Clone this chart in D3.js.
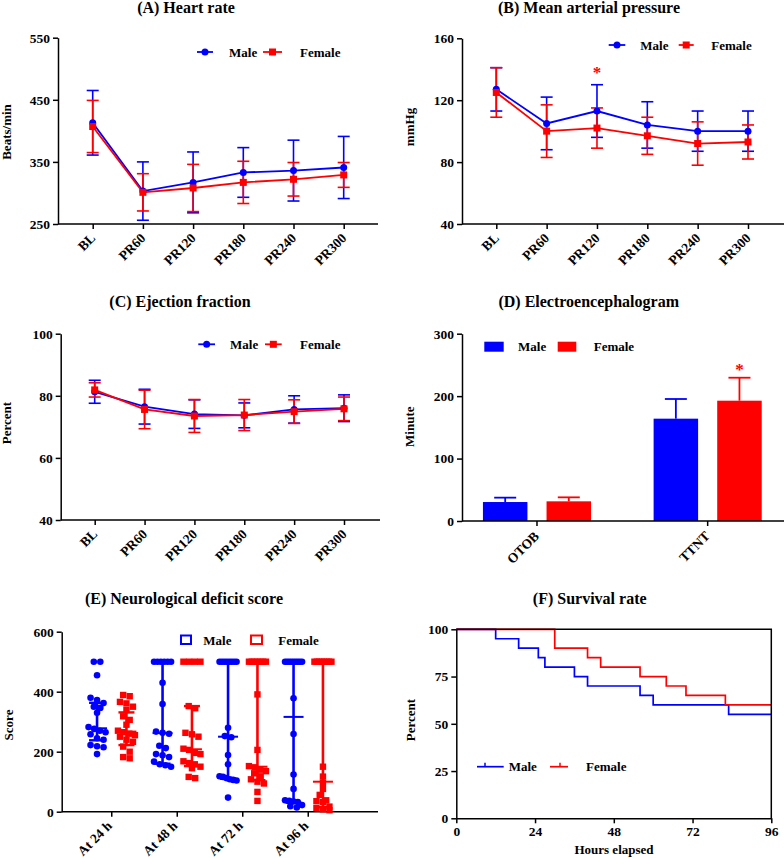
<!DOCTYPE html>
<html><head><meta charset="utf-8">
<script src="https://cdn.jsdelivr.net/npm/d3@7"></script>
<style>body{margin:0;background:#fff}</style>
</head><body><svg id="chart" width="784" height="858"></svg>
<script>
// ---------- DATA ----------
const timepoints = ["BL","PR60","PR120","PR180","PR240","PR300"];
// (A) Heart rate, mean and SD
const hrMale = [413,303,317,333,336,341];
const hrMaleSD = [52,47,49,40,49,50];
const hrFemale = [407,301,308,317,322,329];
const hrFemaleSD = [42,30,38,34,27,20];
const hrTicks = [250,350,450,550];
// (B) Mean arterial pressure
const mapMale = [127,105,113,104,100,100];
const mapMaleSD = [14,17,17,15,13,13];
const mapFemale = [125,100,102,97,92,93];
const mapFemaleSD = [16,17,13,12,14,11];
const mapTicks = [40,80,120,160];
// (C) Ejection fraction
const efMale = [81.3,76.5,74.1,73.7,75.6,76.0];
const efMaleSD = [3.7,5.6,4.6,4.0,4.4,4.3];
const efFemale = [81.9,75.6,73.5,73.8,74.9,75.8];
const efFemaleSD = [2.3,6.2,5.3,5.0,3.8,3.8];
const efTicks = [40,60,80,100];
// (D) Electroencephalogram
const eegCats = ["OTOB","TTNT"];
const eegMale = [30.4,163.9];
const eegMaleSD = [7,31.5];
const eegFemale = [31.5,192.7];
const eegFemaleSD = [6.4,36.8];
const eegTicks = [0,100,200,300];
// (E) Neurological deficit score
const ndsTimes = ["At 24 h","At 48 h","At 72 h","At 96 h"];
const ndsM24 = [500,500,455,380,372,362,350,346,330,282,276,270,265,258,245,240,222,218,215,192];
const ndsF24 = [389,385,366,361,350,339,318,306,290,270,265,260,255,250,240,233,217,200,182,178];
const ndsM48 = [500,500,500,500,500,500,430,359,267,263,260,220,212,192,188,182,167,158,155,150];
const ndsF48 = [500,500,500,500,352,345,263,258,250,210,206,196,192,168,162,158,150,145,116,112];
const ndsM72 = [500,500,500,500,500,500,500,500,280,252,248,189,158,118,116,112,108,106,104,47];
const ndsF72 = [500,500,500,500,500,500,500,391,206,152,148,140,135,128,118,108,100,94,66,36];
const ndsM96 = [500,500,500,500,500,500,500,500,500,378,259,124,76,38,36,34,32,22,18,14];
const ndsF96 = [500,500,500,500,500,500,500,500,150,117,96,76,56,38,35,32,17,12,8,5];
const ndsMaleMed = [278,262,250,316];
const ndsMaleQ1 = [238,160,110,30];
const ndsMaleQ3 = [363,500,500,500];
const ndsFemaleMed = [267,208,150,100];
const ndsFemaleQ1 = [222,152,105,15];
const ndsFemaleQ3 = [331,352,500,500];
const ndsTicks = [0,200,400,600];
// (F) Survival rate
const survHoursMale = [0,12,19,25,27,36,40,56,60,83,96];
const survMale = [100,95,90,85,80,75,70,65,60,55,55];
const survHoursFemale = [0,30,40,44,56,64,70,82,96];
const survFemale = [100,90,85,80,75,70,65,60,60];
const survYTicks = [0,25,50,75,100];
const survXTicks = [0,24,48,72,96];

// ---------- DRAWING ----------
const svg = d3.select("#chart");
const BLUE = "#0000ff", RED = "#ff0000";
const FF = "'Liberation Serif','Times New Roman',serif";

function txt(x, y, s, size, anchor, rot, fill) {
  const t = svg.append("text").attr("font-family", FF).attr("font-weight", "bold")
    .attr("font-size", size).attr("fill", fill || "#000").attr("text-anchor", anchor || "start").text(s);
  if (rot) t.attr("transform", `translate(${x},${y}) rotate(${rot})`);
  else t.attr("x", x).attr("y", y);
  return t;
}
function styleAxis(a) {
  a.attr("font-family", FF).attr("font-size", 13.5).attr("font-weight", "bold");
  a.selectAll(".domain").attr("stroke", "#000").attr("stroke-width", 1.5);
  a.selectAll(".tick line").attr("stroke", "#000").attr("stroke-width", 1.5);
  a.selectAll(".tick text").attr("fill", "#000");
}
function yAxis(x0, y, ticks) {
  const a = svg.append("g").attr("transform", `translate(${x0},0)`)
    .call(d3.axisLeft(y).tickValues(ticks).tickSize(5).tickSizeOuter(0).tickPadding(3));
  styleAxis(a);
  return a;
}
function xAxisCat(x, y0, xStart, xEnd, dx, dy) {
  svg.append("line").attr("x1", xStart).attr("x2", xEnd).attr("y1", y0).attr("y2", y0)
    .attr("stroke", "#000").attr("stroke-width", 1.5);
  const a = svg.append("g").attr("transform", `translate(0,${y0})`)
    .call(d3.axisBottom(x).tickSize(5).tickSizeOuter(0));
  a.select(".domain").remove();
  styleAxis(a);
  a.selectAll(".tick text").attr("x", null).attr("y", null).attr("dy", null)
    .attr("text-anchor", "end").attr("transform", `translate(${dx},${dy}) rotate(-45)`);
}
function marker(g, shape, cx, cy, c, size) {
  if (shape === "circle") g.append("circle").attr("cx", cx).attr("cy", cy).attr("r", size / 2).attr("fill", c);
  else g.append("rect").attr("x", cx - size / 2).attr("y", cy - size / 2).attr("width", size).attr("height", size).attr("fill", c);
}

function linePanel(cfg) {
  const y = d3.scaleLinear().domain(cfg.yDom).range([cfg.yBottom, cfg.yTop]);
  const x = d3.scalePoint().domain(timepoints).range([cfg.xFirst, cfg.xLast]);
  yAxis(cfg.xAxis, y, cfg.yTicks);
  xAxisCat(x, cfg.yBottom, cfg.xAxis, cfg.xRight, 3, 15);
  const g = svg.append("g");
  const series = [
    { m: cfg.male, sd: cfg.maleSD, c: BLUE, shape: "circle" },
    { m: cfg.female, sd: cfg.femaleSD, c: RED, shape: "square" }
  ];
  series.forEach(s => {
    timepoints.forEach((t, i) => {
      const cx = x(t), hi = y(s.m[i] + s.sd[i]), lo = y(s.m[i] - s.sd[i]);
      g.append("line").attr("x1", cx).attr("x2", cx).attr("y1", hi).attr("y2", lo).attr("stroke", s.c).attr("stroke-width", 1.6);
      [hi, lo].forEach(yy => g.append("line").attr("x1", cx - 6).attr("x2", cx + 6).attr("y1", yy).attr("y2", yy).attr("stroke", s.c).attr("stroke-width", 1.6));
    });
  });
  series.forEach(s => {
    g.append("path").datum(s.m).attr("fill", "none").attr("stroke", s.c).attr("stroke-width", 1.8)
      .attr("d", d3.line().x((d, i) => x(timepoints[i])).y(d => y(d)));
  });
  series.forEach(s => s.m.forEach((d, i) => marker(g, s.shape, x(timepoints[i]), y(d), s.c, 7)));
  // legend
  const L = cfg.leg;
  [[L.m1, L.m2, L.mt, BLUE, "circle", "Male"], [L.f1, L.f2, L.ft, RED, "square", "Female"]].forEach(([a, b, tx, c, sh, lab]) => {
    g.append("line").attr("x1", a).attr("x2", b).attr("y1", L.y).attr("y2", L.y).attr("stroke", c).attr("stroke-width", 1.8);
    marker(g, sh, (a + b) / 2, L.y, c, 7);
    txt(tx, L.y + 4.5, lab, 13);
  });
  txt(cfg.titleX, cfg.titleY, cfg.title, 16, "middle");
  txt(cfg.ylabX, cfg.ylabY, cfg.ylab, 13, "middle", -90);
  if (cfg.star) txt(x(cfg.star.cat), y(cfg.star.v), "*", 17, "middle", null, RED);
}

linePanel({
  title: "(A) Heart rate", titleX: 186, titleY: 13, ylab: "Beats/min", ylabX: 11, ylabY: 132,
  yDom: [250, 550], yTicks: hrTicks, yBottom: 224, yTop: 37.7, xAxis: 58, xRight: 378, xFirst: 92.7, xLast: 343.7,
  male: hrMale, maleSD: hrMaleSD, female: hrFemale, femaleSD: hrFemaleSD,
  leg: { y: 52, m1: 197, m2: 213, mt: 229, f1: 263, f2: 282, ft: 300 }
});
linePanel({
  title: "(B) Mean arterial pressure", titleX: 589, titleY: 13, ylab: "mmHg", ylabX: 413.5, ylabY: 127,
  yDom: [40, 160], yTicks: mapTicks, yBottom: 224, yTop: 38.3, xAxis: 462, xRight: 784, xFirst: 496.3, xLast: 748,
  male: mapMale, maleSD: mapMaleSD, female: mapFemale, femaleSD: mapFemaleSD,
  leg: { y: 45, m1: 608.7, m2: 625.3, mt: 640.3, f1: 678.7, f2: 693.7, ft: 711.3 },
  star: { cat: "PR120", v: 134.3 }
});
linePanel({
  title: "(C) Ejection fraction", titleX: 180, titleY: 307, ylab: "Percent", ylabX: 11, ylabY: 423,
  yDom: [40, 100], yTicks: efTicks, yBottom: 520, yTop: 333.7, xAxis: 60.7, xRight: 380, xFirst: 94.7, xLast: 344,
  male: efMale, maleSD: efMaleSD, female: efFemale, femaleSD: efFemaleSD,
  leg: { y: 344.3, m1: 198.3, m2: 215, mt: 230, f1: 265, f2: 281.7, ft: 300 }
});

// ---- (D) bars ----
(function () {
  const y = d3.scaleLinear().domain([0, 300]).range([521, 333.7]);
  const x = d3.scaleBand().domain(eegCats).range([451.65, 793]);
  const sub = d3.scalePoint().domain(["Male", "Female"]).range([-31.8, 31.8]);
  const bw = 44.5;
  yAxis(462, y, eegTicks);
  const g = svg.append("g");
  [["Male", eegMale, eegMaleSD, BLUE], ["Female", eegFemale, eegFemaleSD, RED]].forEach(([k, vals, sds, c]) => {
    eegCats.forEach((cat, i) => {
      const cx = x(cat) + x.bandwidth() / 2 + sub(k);
      g.append("rect").attr("x", cx - bw / 2).attr("width", bw).attr("y", y(vals[i])).attr("height", y(0) - y(vals[i])).attr("fill", c);
      g.append("line").attr("x1", cx).attr("x2", cx).attr("y1", y(vals[i])).attr("y2", y(vals[i] + sds[i])).attr("stroke", c).attr("stroke-width", 1.8);
      g.append("line").attr("x1", cx - 11).attr("x2", cx + 11).attr("y1", y(vals[i] + sds[i])).attr("y2", y(vals[i] + sds[i])).attr("stroke", c).attr("stroke-width", 1.8);
    });
  });
  xAxisCat(x, 521, 462, 784, 3, 16);
  g.append("rect").attr("x", 484.3).attr("y", 341.7).attr("width", 19.4).attr("height", 10).attr("fill", BLUE);
  txt(518, 350.7, "Male", 13);
  g.append("rect").attr("x", 557.7).attr("y", 341.7).attr("width", 18.6).attr("height", 10).attr("fill", RED);
  txt(593.7, 350.7, "Female", 13);
  txt(x("TTNT") + x.bandwidth() / 2 + sub("Female"), y(eegFemale[1] + eegFemaleSD[1]) - 3, "*", 17, "middle", null, RED);
  txt(588.7, 307, "(D) Electroencephalogram", 16, "middle");
  txt(414, 426.7, "Minute", 13, "middle", -90);
})();

// ---- (E) scatter ----
(function () {
  const y = d3.scaleLinear().domain([0, 600]).range([811.7, 631.7]);
  const x = d3.scaleBand().domain(ndsTimes).range([79, 341]);
  const sub = d3.scalePoint().domain(["Male", "Female"]).range([-14.7, 14.7]);
  yAxis(61.7, y, ndsTicks);
  xAxisCat(x, 811.7, 61.7, 378, 1, 15);
  const g = svg.append("g");
  function swarm(vals, maxHalf) {
    const sorted = vals.slice().sort((a, b) => b - a);
    const clusters = [];
    sorted.forEach(v => {
      const py = y(v), last = clusters[clusters.length - 1];
      if (last && Math.abs(py - last.y0) < 5.5) last.items.push(v);
      else clusters.push({ y0: py, items: [v] });
    });
    const out = [];
    clusters.forEach(c => {
      const k = c.items.length;
      const step = k > 1 ? Math.min(6.5, 2 * maxHalf / (k - 1)) : 0;
      c.items.forEach((v, i) => out.push({ v, dx: (i - (k - 1) / 2) * step }));
    });
    return out;
  }
  const groups = [
    ["Male", [ndsM24, ndsM48, ndsM72, ndsM96], ndsMaleMed, ndsMaleQ1, ndsMaleQ3, BLUE, "circle"],
    ["Female", [ndsF24, ndsF48, ndsF72, ndsF96], ndsFemaleMed, ndsFemaleQ1, ndsFemaleQ3, RED, "square"]
  ];
  groups.forEach(([k, sets, med, q1, q3, c, sh]) => {
    ndsTimes.forEach((t, i) => {
      const cx = x(t) + x.bandwidth() / 2 + sub(k);
      swarm(sets[i], 8.5).forEach(p => marker(g, sh, cx + p.dx, y(p.v), c, sh === "circle" ? 6.6 : 6.4));
      g.append("line").attr("x1", cx).attr("x2", cx).attr("y1", y(q1[i])).attr("y2", y(q3[i])).attr("stroke", c).attr("stroke-width", 2.6);
      [q1[i], q3[i]].forEach(v => g.append("line").attr("x1", cx - 8).attr("x2", cx + 8).attr("y1", y(v)).attr("y2", y(v)).attr("stroke", c).attr("stroke-width", 2.4));
      g.append("line").attr("x1", cx - 10).attr("x2", cx + 10).attr("y1", y(med[i])).attr("y2", y(med[i])).attr("stroke", c).attr("stroke-width", 2);
    });
  });
  g.append("rect").attr("x", 181).attr("y", 635.5).attr("width", 10).attr("height", 8.5).attr("fill", "none").attr("stroke", BLUE).attr("stroke-width", 2);
  txt(203.3, 644.5, "Male", 13);
  g.append("rect").attr("x", 251).attr("y", 635.5).attr("width", 11).attr("height", 8.5).attr("fill", "none").attr("stroke", RED).attr("stroke-width", 2);
  txt(278.3, 644.5, "Female", 13);
  txt(184, 604, "(E) Neurological deficit score", 16, "middle");
  txt(12.5, 725, "Score", 13, "middle", -90);
})();

// ---- (F) survival ----
(function () {
  const x = d3.scaleLinear().domain([0, 96]).range([456.3, 771.3]);
  const y = d3.scaleLinear().domain([0, 100]).range([818.3, 629.3]);
  const g = svg.append("g");
  const line = d3.line().curve(d3.curveStepAfter);
  g.append("path").datum(survHoursMale.map((h, i) => [x(h), y(survMale[i])])).attr("d", line)
    .attr("fill", "none").attr("stroke", BLUE).attr("stroke-width", 1.7);
  g.append("path").datum(survHoursFemale.map((h, i) => [x(h), y(survFemale[i])])).attr("d", line)
    .attr("fill", "none").attr("stroke", RED).attr("stroke-width", 1.7);
  yAxis(456.3, y, survYTicks);
  const a = svg.append("g").attr("transform", "translate(0,818.3)")
    .call(d3.axisBottom(x).tickValues(survXTicks).tickSize(5).tickSizeOuter(0).tickPadding(3));
  styleAxis(a);
  svg.append("path").attr("d", `M${x(0)},${y(100)}H${x(96)}V${y(0)}`).attr("fill", "none").attr("stroke", "#000").attr("stroke-width", 1.5);
  [[477, 503.7, 485, BLUE, 508.7, "Male"], [550, 568, 560, RED, 586, "Female"]].forEach(([a1, a2, tk, c, tx, lab]) => {
    g.append("line").attr("x1", a1).attr("x2", a2).attr("y1", 766.7).attr("y2", 766.7).attr("stroke", c).attr("stroke-width", 1.7);
    g.append("line").attr("x1", tk).attr("x2", tk).attr("y1", 766.7).attr("y2", 762.7).attr("stroke", c).attr("stroke-width", 1.5);
    txt(tx, 771, lab, 13);
  });
  txt(589.7, 604, "(F) Survival rate", 16, "middle");
  txt(414.5, 720, "Percent", 13, "middle", -90);
  txt(614, 854, "Hours elapsed", 13, "middle");
})();
</script></body></html>
